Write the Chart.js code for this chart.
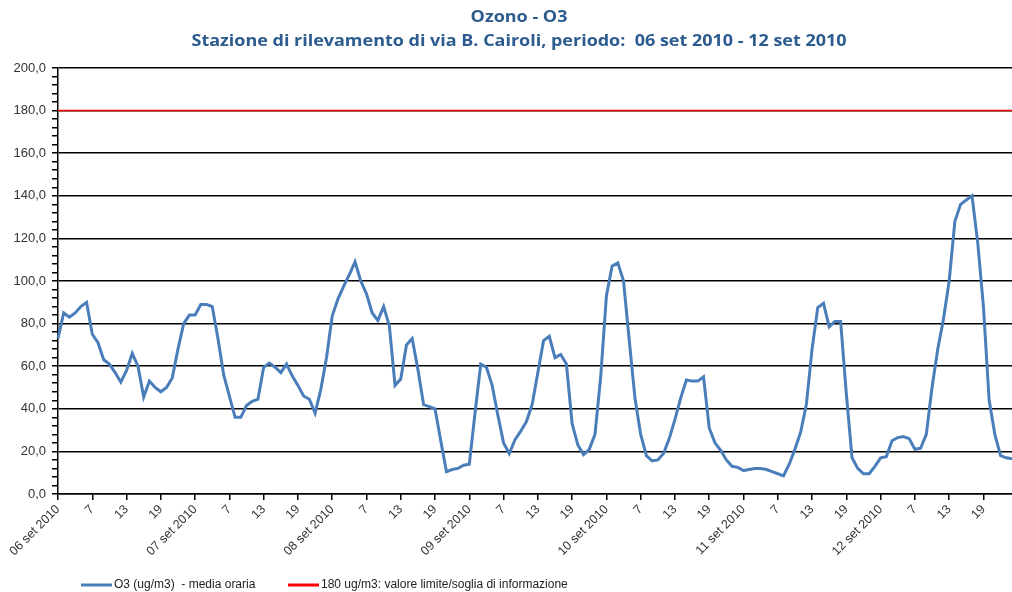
<!DOCTYPE html>
<html>
<head>
<meta charset="utf-8">
<script src="https://cdn.jsdelivr.net/npm/chart.js@4.4.0/dist/chart.umd.min.js"></script>
<style>
  body { margin: 0; background: #fff; }
  #wrap { width: 1012px; height: 592px; }
</style>
</head>
<body>
<div id="wrap"><canvas id="ozonoChart" width="1012" height="592"></canvas></div>
<script>
// ===== Data =====
const titleLines = ['Ozono - O3', 'Stazione di rilevamento di via B. Cairoli, periodo:  06 set 2010 - 12 set 2010'];
const days = ['06 set 2010', '07 set 2010', '08 set 2010', '09 set 2010', '10 set 2010', '11 set 2010', '12 set 2010'];
const hourTicks = { 6: '7', 12: '13', 18: '19' }; // label every 6 hours
const seriesNames = ['O3 (ug/m3)  - media oraria', '180 ug/m3: valore limite/soglia di informazione'];
const limitValue = 180;

// hourly values, one row per day
const o3 = [
  73, 85, 83, 85, 88, 90, 75, 71, 63, 61, 57, 52.5, 58, 66, 60, 45.5, 53, 50, 48, 50, 54.5, 68, 80, 84,
  84, 89, 89, 88, 73, 56, 46, 36, 36, 41.5, 43.5, 44.5, 59.5, 61.5, 59.5, 57, 61, 55.5, 51, 46, 44.5, 38, 49, 64,
  83.5, 91.5, 97.5, 103, 109, 100, 94, 85, 81.5, 88, 79, 51, 54, 70, 73, 58.5, 42, 41, 40, 25, 10.5, 11.5, 12, 13.5,
  14, 38, 61, 59.5, 51, 37, 24, 19, 25.5, 29.5, 34, 42, 57, 72, 74, 64, 65.5, 61, 33, 23, 18.5, 21, 28, 55,
  93, 107, 108.5, 100, 72, 45, 28, 18, 15.5, 16, 19, 26, 35, 45, 53.5, 53, 53, 55, 31, 24, 20.5, 16, 13, 12.5,
  11, 11.5, 12, 12, 11.5, 10.5, 9.5, 8.5, 14, 21, 29, 42, 68, 87.5, 89.5, 78.5, 81, 81, 47, 17, 12, 9.5, 9.5, 13,
  17, 17.5, 25, 26.5, 27, 26, 21, 21.5, 28, 50, 68, 82, 100, 128, 136, 138, 140, 118, 88, 44, 28, 18, 17, 16.5
];

const labels = [];
days.forEach(d => {
  for (let h = 0; h < 24; h++) {
    labels.push(h === 0 ? d : (hourTicks[h] || ''));
  }
});

// ===== Title + legend drawn like the Excel original =====
const excelDecor = {
  id: 'excelDecor',
  afterDraw(chart) {
    const ctx = chart.ctx;
    ctx.save();
    ctx.fillStyle = '#2B5B8F';
    ctx.font = 'bold 16px "Open Sans"';
    ctx.textAlign = 'center';
    ctx.textBaseline = 'middle';
    // the original title font is wider, stretch to the same line length
    const sx = 655 / ctx.measureText(titleLines[1]).width;
    titleLines.forEach((t, i) => {
      ctx.save();
      ctx.translate(519, 17 + i * 24);
      ctx.scale(sx, 1);
      ctx.fillText(t, 0, 0);
      ctx.restore();
    });

    // legend
    const starts = [81, 288];
    ctx.font = '12px "Liberation Sans"';
    ctx.textAlign = 'left';
    chart.data.datasets.forEach((ds, i) => {
      const x = starts[i];
      ctx.strokeStyle = ds.borderColor;
      ctx.lineWidth = 3;
      ctx.beginPath();
      ctx.moveTo(x, 585);
      ctx.lineTo(x + 31, 585);
      ctx.stroke();
      ctx.fillStyle = '#222';
      ctx.fillText(ds.label, x + 33, 585);
    });
    ctx.restore();
  }
};

// ===== Chart =====
new Chart(document.getElementById('ozonoChart'), {
  type: 'line',
  data: {
    labels: labels,
    datasets: [{
      label: seriesNames[0],
      data: o3,
      borderColor: '#4A7EBB',
      borderWidth: 3,
      pointRadius: 0,
      tension: 0
    }, {
      label: seriesNames[1],
      data: labels.map(() => limitValue),
      borderColor: '#FF0000',
      borderWidth: 1.5,
      pointRadius: 0
    }]
  },
  options: {
    responsive: false,
    animation: false,
    layout: { padding: { top: 68, right: 0, bottom: 0, left: 0 } },
    plugins: {
      legend: { display: false },
      title: { display: false },
      tooltip: { enabled: false }
    },
    scales: {
      x: {
        offset: false,
        afterFit: s => { s.height = 98; s.paddingRight = 0; s.paddingLeft = 0; },
        border: { display: true, color: '#000', width: 1.5 },
        grid: {
          drawOnChartArea: false,
          tickLength: 6,
          color: c => (c.index % 6 === 0 ? '#000' : 'rgba(0,0,0,0)'),
          lineWidth: 1.5
        },
        ticks: {
          autoSkip: false,
          maxRotation: 45,
          minRotation: 45,
          padding: 2,
          color: '#333',
          font: { family: 'Liberation Sans', size: 12.5 }
        }
      },
      y: {
        min: 0,
        max: 200,
        afterFit: s => { s.width = 58; },
        border: { display: true, color: '#000', width: 1.5 },
        grid: {
          color: c => (c.tick.value % 20 === 0 ? '#000' : 'rgba(0,0,0,0)'),
          tickColor: '#000',
          tickLength: 6,
          lineWidth: 1.5
        },
        ticks: {
          stepSize: 4,
          autoSkip: false,
          padding: 6,
          color: '#333',
          font: { family: 'Liberation Sans', size: 13 },
          callback: v => (v % 20 === 0 ? v.toFixed(1).replace('.', ',') : '')
        }
      }
    }
  },
  plugins: [excelDecor]
});
</script>
</body>
</html>
